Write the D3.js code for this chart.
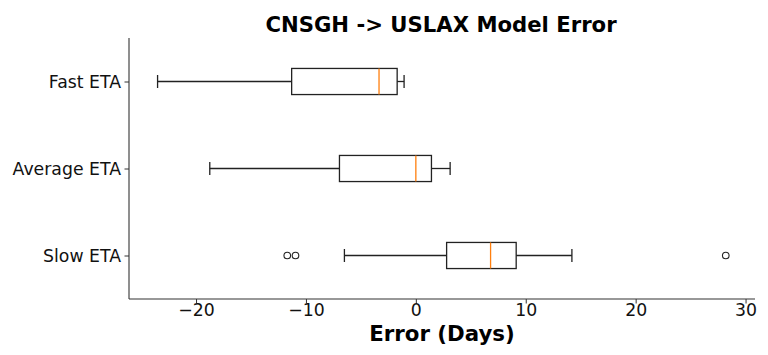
<!DOCTYPE html>
<html><head><meta charset="utf-8">
<script src="https://cdn.jsdelivr.net/npm/d3@7"></script>
<style>body{margin:0;background:#fff}svg{display:block}text{font-family:"DejaVu Sans",sans-serif}</style>
</head><body>
<script>
const categories = ["Fast ETA", "Average ETA", "Slow ETA"];
const whiskerLow = [-23.5, -18.75, -6.5];
const q1 = [-11.3, -6.95, 2.8];
const median = [-3.35, 0.0, 6.8];
const q3 = [-1.7, 1.42, 9.13];
const whiskerHigh = [-1.07, 3.12, 14.2];
const outliers = [[], [], [-11.7, -10.95, 28.2]];
const xTicks = [-20, -10, 0, 10, 20, 30];

const W = 768, H = 355;
const m = {left: 129, right: 755, top: 38, bottom: 299};
const svg = d3.select("body").append("svg").attr("width", W).attr("height", H);

const x = d3.scaleLinear().domain([-26.1, 30.86]).range([m.left, m.right]);
const y = d3.scaleLinear().domain([0.5, 3.5]).range([m.top, m.bottom]);
const bw = 0.15;

const g = svg.append("g");
categories.forEach((c, i) => {
  const p = i + 1;
  const col = "#222";
  g.append("line").attr("x1", x(whiskerLow[i])).attr("x2", x(q1[i])).attr("y1", y(p)).attr("y2", y(p)).attr("stroke", col).attr("stroke-width", 1.3);
  g.append("line").attr("x1", x(q3[i])).attr("x2", x(whiskerHigh[i])).attr("y1", y(p)).attr("y2", y(p)).attr("stroke", col).attr("stroke-width", 1.3);
  [whiskerLow[i], whiskerHigh[i]].forEach(v => {
    g.append("line").attr("x1", x(v)).attr("x2", x(v)).attr("y1", y(p - bw / 2)).attr("y2", y(p + bw / 2)).attr("stroke", col).attr("stroke-width", 1.3);
  });
  g.append("rect").attr("x", x(q1[i])).attr("y", y(p - bw)).attr("width", x(q3[i]) - x(q1[i])).attr("height", y(p + bw) - y(p - bw))
    .attr("fill", "none").attr("stroke", col).attr("stroke-width", 1.3);
  g.append("line").attr("x1", x(median[i])).attr("x2", x(median[i])).attr("y1", y(p - bw)).attr("y2", y(p + bw)).attr("stroke", "#ff7f0e").attr("stroke-width", 1.3);
  outliers[i].forEach(v => {
    g.append("circle").attr("cx", x(v)).attr("cy", y(p)).attr("r", 3.3).attr("fill", "none").attr("stroke", col).attr("stroke-width", 1.1);
  });
});

const xAxis = d3.axisBottom(x).tickValues(xTicks).tickSize(4.5).tickPadding(0)
  .tickFormat(d => d < 0 ? "\u2212" + Math.abs(d) : String(d));
const xa = svg.append("g").attr("transform", `translate(0,${m.bottom})`).call(xAxis);
xa.select(".domain").attr("d", `M${m.left},0H${m.right}`).attr("stroke", "#333").attr("stroke-width", 1.1);
xa.selectAll(".tick line").attr("stroke", "#333");
xa.selectAll("text").attr("font-size", 17.3).attr("fill", "#111");

const yAxis = d3.axisLeft(y).tickValues([1, 2, 3]).tickSize(4.5).tickPadding(3.5).tickFormat((d) => categories[d - 1]);
const ya = svg.append("g").attr("transform", `translate(${m.left},0)`).call(yAxis);
ya.select(".domain").attr("d", `M0,${m.top}V${m.bottom}`).attr("stroke", "#333").attr("stroke-width", 1.1);
ya.selectAll(".tick line").attr("stroke", "#333");
ya.selectAll("text").attr("font-size", 17.3).attr("fill", "#111");

svg.append("text").attr("x", 441).attr("y", 31.5).attr("text-anchor", "middle")
  .attr("font-size", 21.2).attr("font-weight", "bold").attr("fill", "#000").text("CNSGH -> USLAX Model Error");
svg.append("text").attr("x", 442).attr("y", 340.5).attr("text-anchor", "middle")
  .attr("font-size", 21.3).attr("font-weight", "bold").attr("fill", "#000").text("Error (Days)");
</script>
</body></html>
